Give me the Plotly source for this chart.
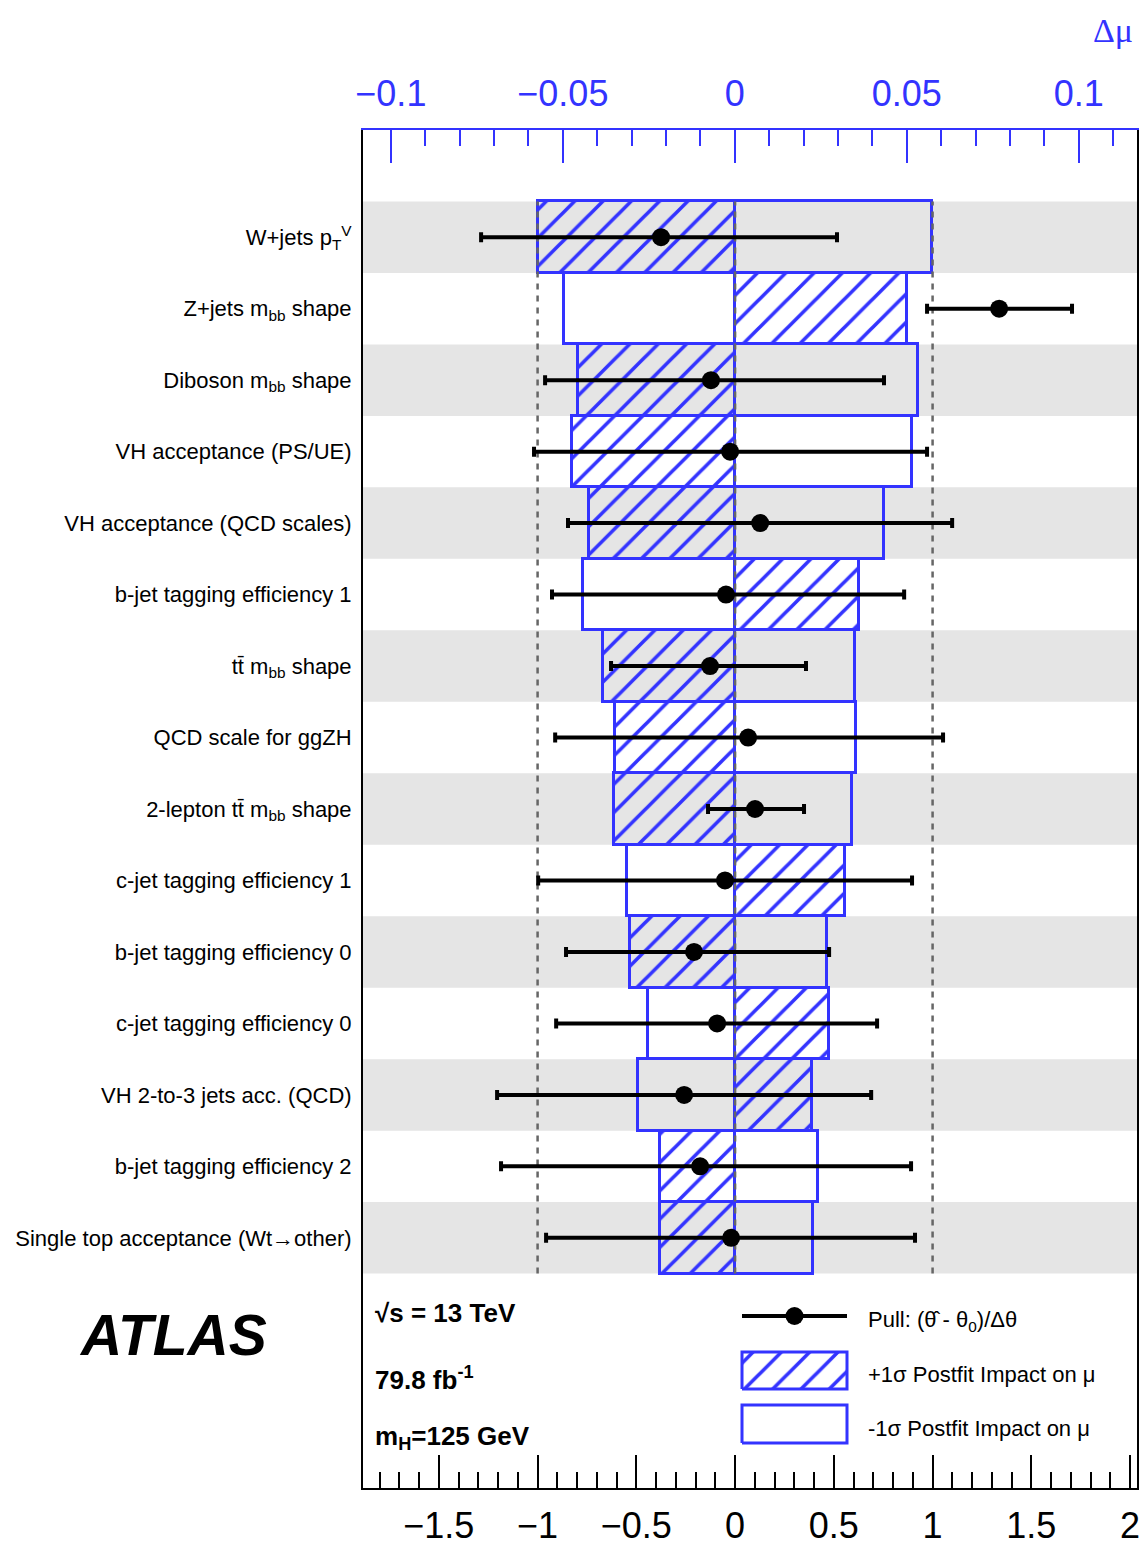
import plotly.graph_objects as go

# ---------------- data ----------------
labels = [
    "W+jets p<sub>T</sub><sup>V</sup>",
    "Z+jets m<sub>bb</sub> shape",
    "Diboson m<sub>bb</sub> shape",
    "VH acceptance (PS/UE)",
    "VH acceptance (QCD scales)",
    "b-jet tagging efficiency 1",
    "tt\u0304 m<sub>bb</sub> shape",
    "QCD scale for ggZH",
    "2-lepton tt\u0304 m<sub>bb</sub> shape",
    "c-jet tagging efficiency 1",
    "b-jet tagging efficiency 0",
    "c-jet tagging efficiency 0",
    "VH 2-to-3 jets acc. (QCD)",
    "b-jet tagging efficiency 2",
    "Single top acceptance (Wt\u2192other)",
]
impact_up = [-0.0573, 0.0500, -0.0456, -0.0474, -0.0424, 0.0360, -0.0384, -0.0349,
             -0.0352, 0.0320, -0.0305, 0.0273, 0.0224, -0.0218, -0.0218]
impact_down = [0.0573, -0.0497, 0.0532, 0.0515, 0.0433, -0.0442, 0.0349, 0.0352,
               0.0340, -0.0314, 0.0267, -0.0253, -0.0282, 0.0241, 0.0227]
pull = [-0.375, 1.337, -0.122, -0.025, 0.127, -0.046, -0.127, 0.066,
        0.101, -0.051, -0.208, -0.091, -0.258, -0.177, -0.020]
pull_err_up = [0.891, 0.369, 0.876, 0.997, 0.972, 0.902, 0.486, 0.987,
               0.248, 0.947, 0.684, 0.810, 0.947, 1.068, 0.931]
pull_err_down = [0.911, 0.365, 0.840, 0.993, 0.973, 0.881, 0.501, 0.977,
                 0.238, 0.946, 0.648, 0.815, 0.947, 1.008, 0.937]

impact_ticks_dtick = 0.05
pull_ticks_dtick = 0.5

# ---------------- layout constants (page pixel coordinates) ----------------
PAGE_W, PAGE_H = 1148, 1545
OFF = 8                                   # default body margin of the html page
W, H = PAGE_W - OFF, PAGE_H - OFF
PL, PR, PT, PB = 363, 1137, 130, 1488     # plot area in page pixels
ML, MR, MT, MB = PL - OFF, PAGE_W - PR, PT - OFF, PAGE_H - PB
PW, PH = PR - PL, PB - PT
BLUE = "#3333ff"
GRAY_BAND = "#e5e5e5"
FONT = "Liberation Sans"

n = len(labels)
ypos = [n - 1 - i for i in range(n)]          # first row on top
YR = [-3.5, n + 0.5]
XR_IMP = [-0.1081, 0.1169]
XR_PULL = [-1.884, 2.035]


def px2fx(px):
    return (px - PL) / PW


def py2fy(py):
    return (PB - py) / PH


def fx2pull(fx):
    return XR_PULL[0] + fx * (XR_PULL[1] - XR_PULL[0])


def fy2y(fy):
    return YR[0] + fy * (YR[1] - YR[0])


HATCH = dict(shape="/", fgcolor=BLUE, fgopacity=1, bgcolor="rgba(0,0,0,0)",
             size=20, solidity=0.18)

fig = go.Figure()

# ---- impact bars (base subplot, top axis) ----
fig.add_trace(go.Bar(
    orientation="h", y=ypos, x=impact_down, base=[0] * n, width=1.0,
    xaxis="x", yaxis="y",
    marker=dict(color="rgba(0,0,0,0)", line=dict(color=BLUE, width=3)),
    showlegend=False, hoverinfo="skip",
))
fig.add_trace(go.Bar(
    orientation="h", y=ypos, x=impact_up, base=[0] * n, width=1.0,
    xaxis="x", yaxis="y",
    marker=dict(color="rgba(0,0,0,0)", line=dict(color=BLUE, width=3), pattern=HATCH),
    showlegend=False, hoverinfo="skip",
))

# ---- reference lines at pull -1, 0, +1 (overlay subplot) ----
for xv in (-1, 0, 1):
    fig.add_trace(go.Scatter(
        x=[xv, xv], y=[-0.5, n - 0.5], mode="lines", xaxis="x2", yaxis="y",
        line=dict(color="#666666", width=2.5, dash="6px,6px"),
        showlegend=False, hoverinfo="skip",
    ))

# ---- pulls ----
fig.add_trace(go.Scatter(
    x=pull, y=ypos, mode="markers", xaxis="x2", yaxis="y",
    marker=dict(color="black", size=18),
    error_x=dict(type="data", symmetric=False, array=pull_err_up,
                 arrayminus=pull_err_down, color="black", thickness=4, width=5),
    showlegend=False, hoverinfo="skip",
))

# ---- legend swatches ----
lx0, lx1 = fx2pull(px2fx(742)), fx2pull(px2fx(847))
ly_pull = fy2y(py2fy(1316))
fig.add_trace(go.Scatter(
    x=[lx0, lx1], y=[ly_pull, ly_pull], mode="lines", xaxis="x2", yaxis="y",
    line=dict(color="black", width=4), showlegend=False, hoverinfo="skip"))
fig.add_trace(go.Scatter(
    x=[(lx0 + lx1) / 2], y=[ly_pull], mode="markers", xaxis="x2", yaxis="y",
    marker=dict(color="black", size=18), showlegend=False, hoverinfo="skip"))

hy0, hy1 = fy2y(py2fy(1389)), fy2y(py2fy(1352))
fig.add_trace(go.Scatter(
    x=[lx0, lx1, lx1, lx0, lx0], y=[hy0, hy0, hy1, hy1, hy0], mode="lines",
    fill="toself", fillcolor="rgba(0,0,0,0)", fillpattern=HATCH,
    xaxis="x2", yaxis="y", line=dict(color=BLUE, width=3),
    showlegend=False, hoverinfo="skip"))
oy0, oy1 = fy2y(py2fy(1443)), fy2y(py2fy(1405))
fig.add_trace(go.Scatter(
    x=[lx0, lx1, lx1, lx0, lx0], y=[oy0, oy0, oy1, oy1, oy0], mode="lines",
    xaxis="x2", yaxis="y", line=dict(color=BLUE, width=3),
    showlegend=False, hoverinfo="skip"))

# ---- gray bands ----
shapes = []
for i, y in enumerate(ypos):
    if i % 2 == 0:
        shapes.append(dict(type="rect", xref="paper", yref="y", x0=0, x1=1,
                           y0=y - 0.5, y1=y + 0.5, fillcolor=GRAY_BAND,
                           line=dict(width=0), layer="below"))

# ---- annotations ----
ann = []


def add_text(text, px, py, size, color="black", xanchor="left", family=FONT, bold=False):
    ann.append(dict(text=(f"<b>{text}</b>" if bold else text), xref="paper", yref="paper",
                    x=px2fx(px), y=py2fy(py), xanchor=xanchor, yanchor="middle",
                    showarrow=False, font=dict(size=size, color=color, family=family)))


ann.append(dict(text="<b><i>ATLAS</i></b>", xref="paper", yref="paper",
                x=px2fx(173), y=py2fy(1335), xanchor="center", yanchor="middle",
                showarrow=False, font=dict(size=57, color="black", family=FONT)))
add_text("\u221as = 13 TeV", 373, 1313, 26, bold=True)
add_text("79.8 fb<sup>-1</sup>", 373, 1378, 26, bold=True)
add_text("m<sub>H</sub>=125 GeV", 373, 1437, 26, bold=True)
add_text("Pull: (\u03b8\u0302 - \u03b8<sub>0</sub>)/\u0394\u03b8", 866, 1321, 22)
add_text("+1\u03c3 Postfit Impact on \u03bc", 866, 1374, 22)
add_text("-1\u03c3 Postfit Impact on \u03bc", 866, 1428, 22)
add_text("\u0394\u03bc", 1113, 30, 34, color=BLUE, xanchor="center", family="Liberation Serif")

fig.update_layout(
    width=W, height=H,
    margin=dict(l=ML, r=MR, t=MT, b=MB, autoexpand=False),
    paper_bgcolor="white", plot_bgcolor="white",
    showlegend=False,
    bargap=0, barmode="overlay",
    shapes=shapes, annotations=ann,
    font=dict(family=FONT, color="black"),
    xaxis=dict(
        range=XR_IMP, side="top", dtick=impact_ticks_dtick, tick0=0,
        ticks="inside", ticklen=33, tickwidth=2, tickcolor=BLUE,
        minor=dict(dtick=0.01, tick0=0, ticks="inside", ticklen=16, tickwidth=2, tickcolor=BLUE),
        showline=True, linecolor=BLUE, linewidth=2, showgrid=False, zeroline=False,
        tickfont=dict(size=36, color=BLUE, family=FONT), ticklabelstandoff=8,
        fixedrange=True,
    ),
    xaxis2=dict(
        range=XR_PULL, side="bottom", overlaying="x", dtick=pull_ticks_dtick, tick0=0,
        ticks="inside", ticklen=33, tickwidth=2, tickcolor="black",
        minor=dict(dtick=0.1, tick0=0, ticks="inside", ticklen=16, tickwidth=2, tickcolor="black"),
        showline=True, linecolor="black", linewidth=2, showgrid=False, zeroline=False,
        tickfont=dict(size=36, color="black", family=FONT), ticklabelstandoff=5,
        fixedrange=True,
    ),
    yaxis=dict(
        range=YR, tickvals=ypos, ticktext=labels, ticks="",
        showline=True, mirror=True, linecolor="black", linewidth=2,
        showgrid=False, zeroline=False,
        tickfont=dict(size=22, color="black", family=FONT), ticklabelstandoff=5,
        fixedrange=True,
    ),
)

fig.write_html("out.html")
